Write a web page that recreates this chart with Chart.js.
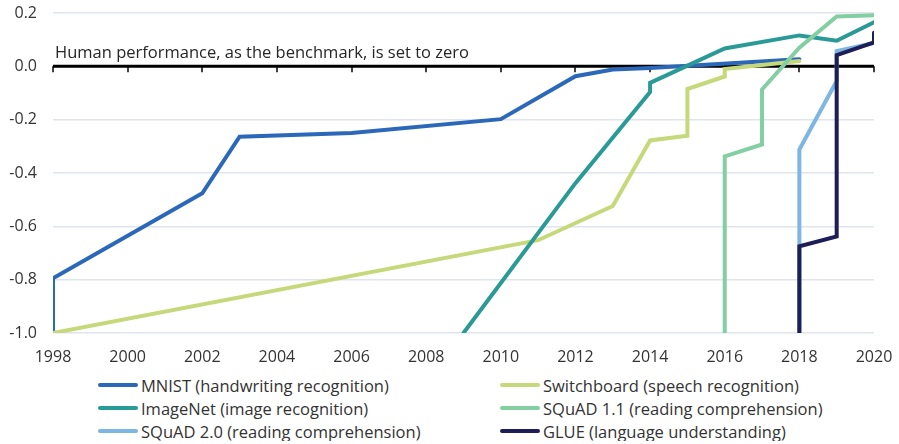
<!DOCTYPE html>
<html>
<head>
<meta charset="utf-8">
<script src="https://cdn.jsdelivr.net/npm/chart.js@4"></script>
<style>
    body { margin: 0; background: #fff; font-family: 'Open Sans', sans-serif; color: #333; }
    #wrap { position: relative; width: 899px; height: 372px; }
    #legend { display: grid; grid-template-columns: 402px 360px; margin-left: 98px; margin-top: 3px; row-gap: 3px; }
    .item { display: flex; align-items: center; font-size: 16.5px; height: 20px; }
    .swatch { width: 40px; height: 4px; border-radius: 2px; margin-right: 3px; }
</style>
</head>
<body>
<div id="wrap"><canvas id="chart" width="899" height="372"></canvas></div>
<div id="legend"></div>
<script>
// values, [year, score] pairs
const mnist = [[1998, -1.0], [1998, -0.795], [2002, -0.476], [2003, -0.264], [2006, -0.25], [2010, -0.198],
    [2012, -0.037], [2013, -0.012], [2014, -0.006], [2018, 0.027]];
const switchboard = [[1998, -1.0], [2011, -0.652], [2013, -0.524], [2014, -0.278], [2015, -0.26], [2015, -0.085],
    [2016, -0.038], [2016, -0.01], [2018, 0.02]];
const imagenet = [[2009, -1.0], [2012, -0.438], [2014, -0.096], [2014, -0.062], [2016, 0.067], [2018, 0.116],
    [2019, 0.096], [2020, 0.165]];
const squad11 = [[2016, -1.0], [2016, -0.338], [2017, -0.293], [2017, -0.087], [2018, 0.07], [2019, 0.187], [2020, 0.192]];
const squad20 = [[2018, -1.0], [2018, -0.312], [2019, -0.055], [2019, 0.057], [2020, 0.088]];
const glue = [[2018, -1.0], [2018, -0.675], [2019, -0.638], [2019, 0.042], [2020, 0.09], [2020, 0.126]];

const names = ['MNIST (handwriting recognition)', 'Switchboard (speech recognition)', 'ImageNet (image recognition)',
    'SQuAD 1.1 (reading comprehension)', 'SQuAD 2.0 (reading comprehension)', 'GLUE (language understanding)'];
const series = [mnist, switchboard, imagenet, squad11, squad20, glue];
const colors = ['#2b68b9', '#c5d97b', '#2a9a96', '#84cea3', '#7db5e3', '#1d1d57'];

const yearTicks = [1998, 2000, 2002, 2004, 2006, 2008, 2010, 2012, 2014, 2016, 2018, 2020];
const note = 'Human performance, as the benchmark, is set to zero';

// black zero line with small ticks, plus the note above it
const zeroLine = {
    id: 'zeroLine',
    beforeDatasetsDraw(chart) {
        const ctx = chart.ctx;
        const x = chart.scales.x;
        const y0 = chart.scales.y.getPixelForValue(0);
        ctx.save();
        ctx.strokeStyle = '#000';
        ctx.lineWidth = 1.5;
        yearTicks.forEach(t => {
            const px = Math.round(x.getPixelForValue(t));
            ctx.beginPath();
            ctx.moveTo(px, y0);
            ctx.lineTo(px, y0 + 6);
            ctx.stroke();
        });
        ctx.lineWidth = 3;
        ctx.beginPath();
        ctx.moveTo(x.left, y0);
        ctx.lineTo(x.right, y0);
        ctx.stroke();
        ctx.fillStyle = '#262626';
        ctx.font = '16.5px "Open Sans"';
        ctx.textBaseline = 'alphabetic';
        ctx.fillText(note, x.left + 2, y0 - 8);
        ctx.restore();
    }
};

// scatter with lines since some series have several points in one year
// later series sit on top, like in the original
const datasets = series.map((s, i) => ({
    label: names[i],
    data: s.map(p => ({x: p[0], y: p[1]})),
    borderColor: colors[i],
    backgroundColor: colors[i],
    borderWidth: 4,
    pointRadius: 0,
    showLine: true,
    order: series.length - i,
    borderCapStyle: 'round',
    borderJoinStyle: 'miter'
}));

new Chart(document.getElementById('chart'), {
    type: 'scatter',
    data: { datasets: datasets },
    plugins: [zeroLine],
    options: {
        responsive: false,
        animation: false,
        layout: { padding: { top: 13, right: 25, left: 0, bottom: 0 } },
        plugins: { legend: { display: false }, tooltip: { enabled: false } },
        scales: {
            x: {
                type: 'linear',
                min: 1998,
                max: 2020,
                afterBuildTicks: axis => { axis.ticks = yearTicks.map(v => ({value: v})); },
                afterFit: axis => { axis.height = 39; axis.paddingLeft = 0; axis.paddingRight = 0; },
                grid: { display: false, drawTicks: false },
                border: { display: false },
                ticks: { color: '#333', font: { family: 'Open Sans', size: 16 }, padding: 15, callback: v => String(v) }
            },
            y: {
                min: -1.0,
                max: 0.2,
                afterFit: axis => { axis.width = 53; axis.paddingTop = 0; axis.paddingBottom = 0; },
                grid: { color: '#dfe4ee', lineWidth: 1.5, drawTicks: false },
                border: { display: false },
                ticks: { stepSize: 0.2, color: '#333', font: { family: 'Open Sans', size: 16 }, padding: 16,
                    callback: v => (Math.abs(v) < 1e-9 ? 0 : v).toFixed(1) }
            }
        }
    }
});

// two-column legend like the original
const legend = document.getElementById('legend');
names.forEach((n, i) => {
    const item = document.createElement('div');
    item.className = 'item';
    const sw = document.createElement('span');
    sw.className = 'swatch';
    sw.style.background = colors[i];
    const label = document.createElement('span');
    label.textContent = n;
    item.append(sw, label);
    legend.append(item);
});
</script>
</body>
</html>
